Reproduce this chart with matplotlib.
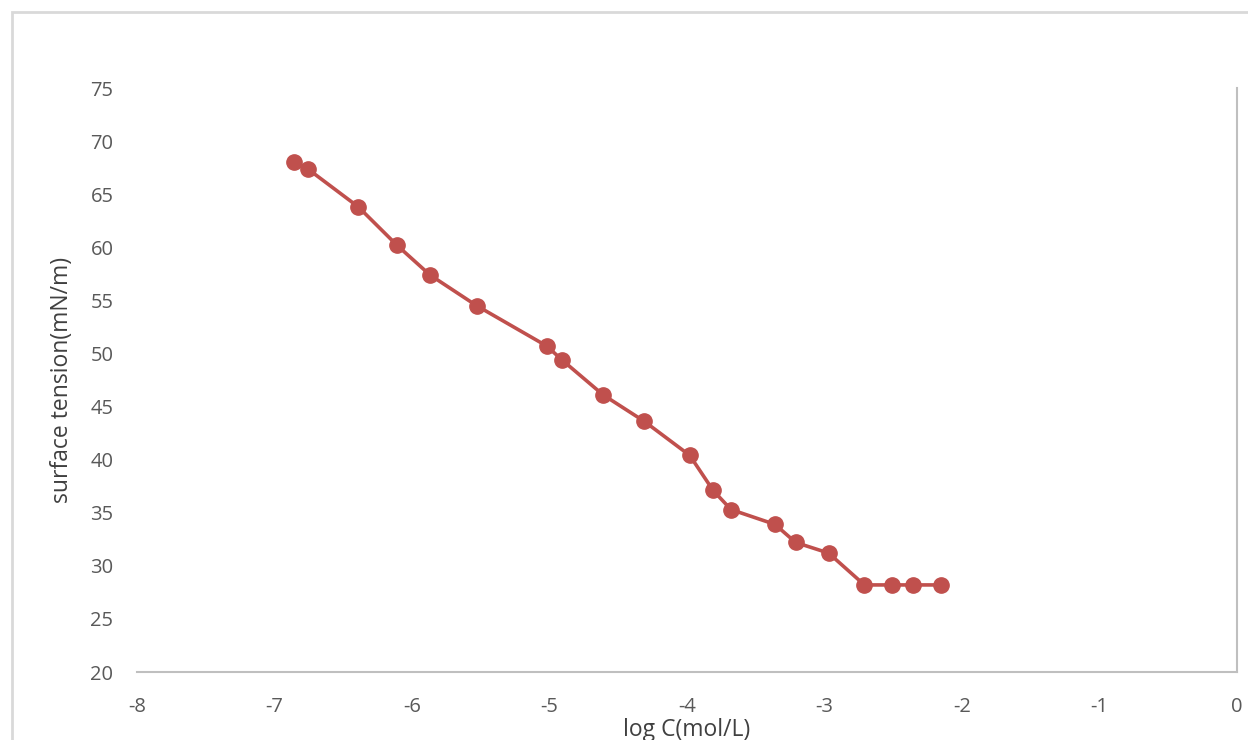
import matplotlib
matplotlib.use("Agg")
import matplotlib.pyplot as plt
from matplotlib.patches import Rectangle

# log concentration vs surface tension
log_c = [-6.86, -6.76, -6.39, -6.11, -5.87, -5.53, -5.02, -4.91, -4.61, -4.31,
         -3.98, -3.81, -3.68, -3.36, -3.21, -2.97, -2.71, -2.51, -2.36, -2.15]
tension = [68.0, 67.4, 63.8, 60.2, 57.4, 54.5, 50.7, 49.4, 46.1, 43.6,
           40.4, 37.1, 35.3, 33.9, 32.2, 31.2, 28.2, 28.2, 28.2, 28.2]
x_ticks = [-8, -7, -6, -5, -4, -3, -2, -1, 0]
y_ticks = [20, 25, 30, 35, 40, 45, 50, 55, 60, 65, 70, 75]

plt.rcParams['font.family'] = ['Open Sans', 'DejaVu Sans']
plt.rcParams['axes.unicode_minus'] = False
text_col = '#595959'
label_col = '#404040'
axis_col = '#BFBFBF'

fig = plt.figure(figsize=(12.48, 7.4), dpi=100)
# chart area border (cut off at right and bottom like the reference)
fig.patches.append(Rectangle((11.5 / 1248, -0.05), 1.1, 1 - 11.5 / 740 + 0.05,
                             transform=fig.transFigure, fill=False,
                             edgecolor='#D9D9D9', linewidth=2.0))

ax = fig.add_axes([137 / 1248, 1 - 672 / 740, 1100 / 1248, 584 / 740])
ax.plot(log_c, tension, '-o', color='#C0504D', linewidth=2.6,
        markersize=11, clip_on=False)

ax.set_xlim(-8, 0)
ax.set_ylim(20, 75)
ax.set_xticks(x_ticks)
ax.set_yticks(y_ticks)

for side in ['top', 'left']:
    ax.spines[side].set_visible(False)
ax.spines['bottom'].set_color(axis_col)
ax.spines['right'].set_color(axis_col)
ax.spines['bottom'].set_linewidth(1.5)
ax.spines['right'].set_linewidth(1.5)

ax.tick_params(axis='both', length=0, labelsize=14.5, labelcolor=text_col)
ax.tick_params(axis='x', pad=18)
ax.tick_params(axis='y', pad=17)

ax.set_xlabel('log C(mol/L)', fontsize=16.5, color=label_col, labelpad=1)
ax.set_ylabel('surface tension(mN/m)', fontsize=16.5, color=label_col, labelpad=12)

fig.savefig('out.png', dpi=100)
